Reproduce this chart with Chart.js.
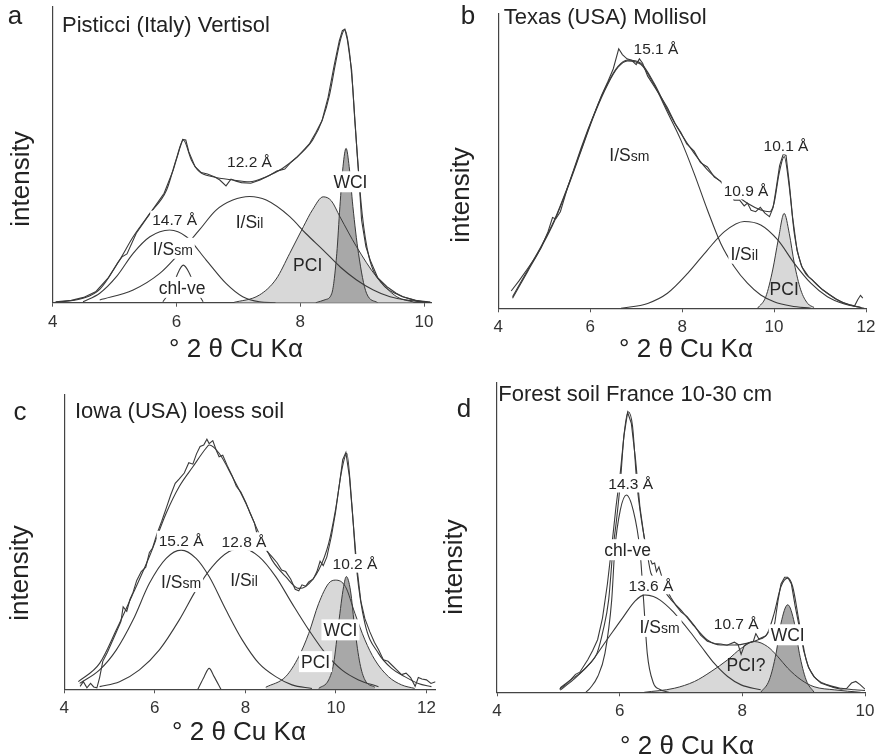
<!DOCTYPE html>
<html>
<head>
<meta charset="utf-8">
<script src="https://cdn.jsdelivr.net/npm/chart.js@4.4.0/dist/chart.umd.min.js"></script>
<style>
  body { margin: 0; background: #fff; }
  #wrap { position: relative; width: 882px; height: 755px; }
  #wrap canvas { position: absolute; }
</style>
</head>
<body>
<div id="wrap">
  <canvas id="pa" width="441" height="370" style="left:0;top:0"></canvas>
  <canvas id="pb" width="441" height="370" style="left:441px;top:0"></canvas>
  <canvas id="pc" width="441" height="385" style="left:0;top:370px"></canvas>
  <canvas id="pd" width="441" height="385" style="left:441px;top:370px"></canvas>
</div>
<script>
const FONT = '"Liberation Sans", Arial, Helvetica, sans-serif';

// ---- a: Pisticci (Italy) Vertisol ----
const aTicks = [4, 6, 8, 10];
const aMeasX = [4.05,4.3,4.5,4.7,4.9,5.05,5.12,5.2,5.35,5.5,5.65,5.8,5.95,6.05,6.1,6.15,6.2,6.3,6.4,6.5,6.62,6.7,6.8,6.88,6.95,7.05,7.2,7.35,7.5,7.62,7.75,7.85,7.95,8.05,8.15,8.25,8.35,8.45,8.55,8.63,8.68,8.72,8.76,8.83,8.88,8.94,8.99,9.06,9.13,9.25,9.40,9.55,9.66,9.85,10.1];
const aMeasY = [0.3,0.8,1.8,3.8,8.5,13.5,15.5,16.5,23.5,28,32.5,37,45,52,55.2,55,51,46,44,43.5,42.5,41.5,39.5,41.8,41.2,40.6,40.4,41.5,43,44.5,45.2,47.5,49.2,51.5,53.8,57.5,61.5,69.5,80.5,88.5,92,92.5,89,78.7,61.8,44.9,28,19,14.4,8.5,5.4,3.2,2.0,0.8,0.2];
const aSumX = [4.0,4.49,4.76,5.08,5.30,5.57,5.84,6.00,6.11,6.24,6.37,6.59,6.91,7.18,7.45,7.71,7.98,8.20,8.36,8.47,8.57,8.65,8.72,8.79,8.85,8.92,9.00,9.11,9.32,9.59,9.92,10.1];
const aSumY = [0,1.5,4.5,14.4,22.3,30.2,38.1,48.8,55.0,48.3,44.3,42.6,41.5,40.9,42.6,45.4,49.9,55.0,62.0,70.0,81.0,89.0,92.3,85.5,72.0,50.0,30.0,15.5,6.5,2.6,0.6,0.1];
const aSsmX = [4.49,4.76,5.03,5.30,5.57,5.89,6.16,6.48,6.80,7.07,7.34,7.6];
const aSsmY = [0.3,3.2,8.8,16.7,22.3,24.6,22.3,14.4,6.5,2.0,0.3,0];
const aSilX = [4.76,5.30,5.73,6.00,6.37,6.64,6.91,7.18,7.45,7.83,8.09,8.37,8.65,8.91,9.18,9.45,9.75,10.05];
const aSilY = [0.9,4.3,9.9,15.6,24.6,31.3,34.7,35.9,34.7,29.1,23.4,17.8,12.0,7.7,4.3,2.0,0.8,0.2];
const aChlX = [5.78,5.94,6.02,6.11,6.21,6.32,6.43];
const aChlY = [0.3,5.4,9.9,12.7,9.9,4.3,0.3];
const aPclX = [6.91,7.34,7.61,7.83,8.05,8.20,8.37,8.50,8.64,8.91,9.23,9.56,9.83];
const aPclY = [0,2.6,8.0,16.7,25.7,31.5,35.8,34.5,29.1,18.9,8.8,2.0,0.2];
const aWclX = [8.25,8.40,8.51,8.59,8.64,8.69,8.74,8.79,8.85,8.94,9.07,9.25];
const aWclY = [0,1.0,3.2,16.7,32.5,46,52.2,46,32.5,16.7,3.2,0];
const aNotes = [
  ['12.2 Å', 7.18, 47.7, 1], ['14.7 Å', 5.97, 28.0, 1], ['I/S_il', 7.18, 27.4, 1],
  ['I/S_sm', 5.94, 18.4, 1], ['chl-ve', 6.09, 5.2, 1], ['PCI', 8.12, 12.7, 0], ['WCI', 8.81, 40.9, 1]
];

// ---- b: Texas (USA) Mollisol ----
const bTicks = [4, 6, 8, 10, 12];
const bMeasX = [4.28,4.45,4.64,4.8,4.93,5.08,5.18,5.25,5.35,5.51,5.65,5.80,5.95,6.09,6.25,6.38,6.5,6.62,6.7,6.8,6.9,7.0,7.07,7.14,7.25,7.39,7.55,7.68,7.85,7.97,8.1,8.26,8.4,8.55,8.7,8.84,8.95,9.05,9.13,9.25,9.35,9.42,9.5,9.6,9.7,9.8,9.9,9.98,10.05,10.12,10.2,10.26,10.33,10.4,10.5,10.6,10.75,10.9,11.05,11.2,11.35,11.5,11.65,11.75,11.82,11.88,11.93];
const bMeasY = [6.0,9.5,13.8,17.5,21.0,26.5,31.5,31.0,33.5,42.0,48.5,55.5,62.0,67.5,74.0,78.5,83.0,90.0,88.0,86.5,86.0,84.5,86.5,85.0,80.5,77.0,73.0,69.5,64.0,61.0,57.0,54.5,50.5,49.0,45.5,44.0,41.5,41.0,37.5,37.5,35.5,36.5,34.0,33.5,35.0,33.0,31.8,35.0,42.0,49.5,53.5,53.0,43.5,32.0,20.0,14.5,11.0,8.8,6.5,4.8,3.2,2.0,1.2,0.8,3.0,4.5,3.5];
const bSumX = [4.31,4.64,4.93,5.22,5.51,5.80,6.09,6.38,6.60,6.81,7.10,7.39,7.68,7.97,8.26,8.55,8.84,9.13,9.42,9.71,9.90,10.0,10.11,10.22,10.33,10.44,10.58,10.87,11.16,11.45,11.74,11.96];
const bSumY = [4.0,13.3,21.4,30.6,42.2,54.9,67.6,78.0,83.8,86.1,85.0,78.0,68.8,60.7,53.8,48.0,43.9,39.9,36.4,34.1,33.5,36.5,46.8,52.6,42.2,26.0,15.6,9.2,5.2,2.3,0.8,0];
const bSsmX = [4.31,4.64,4.93,5.22,5.51,5.80,6.09,6.38,6.60,6.81,7.10,7.39,7.68,7.97,8.26,8.55,8.84,9.13,9.42,9.71,10.0,10.37,10.8];
const bSsmY = [3.5,12.8,21.0,30.2,41.8,54.5,67.2,77.6,83.5,85.8,84.6,77.5,68.0,58.4,46.8,34.1,22.5,14.5,8.7,4.6,2.3,0.8,0];
const bSilX = [6.67,7.25,7.68,8.12,8.55,8.92,9.35,9.71,10.08,10.44,10.80,11.16,11.53,11.89];
const bSilY = [0,1.7,5.2,12.1,20.2,26.6,30.1,28.9,23.7,15.6,8.7,4.0,1.5,0.3];
const bPclX = [9.64,9.82,9.97,10.09,10.22,10.33,10.44,10.58,10.73,10.87];
const bPclY = [0,4.0,13.3,23.7,32.9,26.0,15.6,6.4,1.7,0.3];
const bNotes = [
  ['15.1 Å', 7.43, 90.2, 1], ['I/S_sm', 6.85, 53.2, 1], ['10.9 Å', 9.39, 41.0, 1],
  ['10.1 Å', 10.26, 56.6, 1], ['I/S_il', 9.35, 19.1, 1], ['PCI', 10.22, 6.9, 0]
];

// ---- c: Iowa (USA) loess soil ----
const cTicks = [4, 6, 8, 10, 12];
const cMeasX = [4.35,4.42,4.5,4.58,4.65,4.72,4.78,4.85,4.95,5.05,5.15,5.25,5.3,5.38,5.45,5.52,5.6,5.7,5.8,5.88,5.95,6.05,6.15,6.25,6.35,6.45,6.54,6.65,6.75,6.84,6.92,7.0,7.08,7.15,7.2,7.28,7.35,7.42,7.5,7.6,7.71,7.8,7.9,8.01,8.1,8.2,8.3,8.4,8.5,8.59,8.7,8.8,8.89,9.0,9.1,9.18,9.25,9.33,9.4,9.5,9.58,9.65,9.72,9.8,9.9,9.99,10.08,10.15,10.22,10.3,10.38,10.46,10.55,10.64,10.75,10.85,10.94,11.05,11.15,11.25,11.35,11.45,11.55,11.65,11.75,11.82,11.9,12.0,12.1,12.2];
const cMeasY = [1.0,2.6,0.5,2.0,0.8,0.5,4.0,9.5,12.5,16.0,19.5,23.0,28.0,26.5,30.5,33.0,37.0,40.0,41.5,46.5,48.0,53.0,57.0,61.5,66.0,70.0,71.5,73.5,77.0,76.5,80.0,82.5,83.0,85.0,83.5,84.5,81.5,79.0,79.5,76.0,72.5,69.0,67.0,63.5,60.0,56.5,50.0,48.5,46.5,45.0,43.0,40.5,40.0,37.5,34.0,33.5,35.5,35.0,36.5,37.5,40.0,43.5,42.0,45.0,52.0,60.0,70.0,78.0,80.5,72.0,57.0,42.0,30.0,24.0,19.5,16.0,13.5,10.0,9.5,8.0,6.5,5.0,5.5,4.0,1.0,4.0,3.5,3.2,2.0,2.6];
const cSumX = [4.31,4.78,5.15,5.52,5.88,6.25,6.54,6.84,7.13,7.20,7.42,7.71,8.01,8.30,8.59,8.89,9.18,9.33,9.62,9.84,9.99,10.13,10.24,10.35,10.46,10.64,10.94,11.23,11.52,11.82,12.11];
const cSumY = [2.6,8.8,20.2,32.6,45.1,59.8,68.9,75.6,81.9,83.0,80.2,72.3,63.2,53.0,43.9,38.3,34.3,34.9,40.5,49.6,60.9,74.5,80.2,63.2,40.5,22.4,12.2,7.1,4.3,2.0,0.9];
const cSsmX = [4.34,4.78,5.15,5.52,5.88,6.25,6.58,6.91,7.20,7.57,7.93,8.30,8.67,9.03,9.47];
const cSsmY = [2.0,6.6,13.4,23.6,36.0,44.5,47.3,44.5,38.3,27.0,16.8,8.8,4.3,1.5,0.3];
const cSilX = [4.78,5.22,5.66,6.10,6.54,6.91,7.27,7.64,7.93,8.30,8.67,9.03,9.40,9.77,10.13,10.50,10.94];
const cSilY = [0.9,2.6,6.6,13.4,23.6,33.7,41.7,46.8,47.9,45.1,38.3,29.2,20.2,12.2,6.6,3.2,0.9];
const cBumpX = [6.95,7.09,7.20,7.31,7.46];
const cBumpY = [0,4.3,7.1,4.3,0];
const cPclX = [8.45,8.89,9.18,9.40,9.62,9.84,9.99,10.21,10.42,10.64,10.86,11.16,11.45,11.74];
const cPclY = [0.7,4.3,11.1,19.0,29.2,36.0,37.1,34.9,25.8,16.8,10.0,4.3,1.5,0.3];
const cWclX = [9.62,9.84,9.95,10.06,10.17,10.23,10.32,10.42,10.53,10.64,10.86];
const cWclY = [0.3,3.2,8.8,22.4,34.9,38.3,33.7,20.2,8.8,3.2,0.7];
const cNotes = [
  ['15.2 Å', 6.58, 50.7, 1], ['12.8 Å', 7.97, 50.2, 1], ['10.2 Å', 10.42, 42.8, 1],
  ['I/S_sm', 6.58, 36.6, 1], ['I/S_il', 7.97, 37.1, 1], ['WCI', 10.10, 20.2, 1], ['PCI', 9.55, 9.4, 1]
];

// ---- d: Forest soil France 10-30 cm ----
const dTicks = [4, 6, 8, 10];
const dMeasX = [5.02,5.12,5.2,5.28,5.35,5.48,5.56,5.64,5.72,5.8,5.87,5.94,6.01,6.07,6.13,6.19,6.26,6.33,6.4,6.47,6.53,6.57,6.6,6.64,6.7,6.77,6.84,6.92,7.0,7.1,7.22,7.32,7.43,7.55,7.65,7.75,7.87,7.93,7.98,8.03,8.1,8.18,8.22,8.27,8.33,8.38,8.43,8.48,8.53,8.58,8.63,8.69,8.74,8.8,8.86,8.93,9.0,9.08,9.17,9.28,9.39,9.5,9.61,9.7,9.78,9.85,9.92,10.0];
const dMeasY = [1.0,2.5,4.0,5.8,6.5,10.5,13.5,17.0,24.0,35.0,47.0,60.0,71.0,83.0,90.5,87.0,75.0,60.0,50.0,44.5,41.5,41.8,39.0,40.5,36.5,33.0,30.5,28.0,26.0,24.5,21.5,18.5,16.5,15.8,15.6,15.2,16.2,15.5,12.3,15.0,16.0,16.5,19.0,17.2,17.8,18.2,19.5,19.0,22.5,29.5,35.0,37.2,37.2,35.0,28.0,21.0,13.5,8.0,5.0,3.0,2.2,1.5,1.0,1.2,3.0,3.5,2.5,1.0];
const dSumX = [5.03,5.20,5.35,5.50,5.63,5.73,5.82,5.89,5.95,6.01,6.07,6.14,6.21,6.28,6.36,6.44,6.51,6.60,6.70,6.84,7.00,7.22,7.43,7.65,7.87,8.09,8.25,8.41,8.52,8.63,8.74,8.82,8.93,9.04,9.17,9.39,9.61,9.83,10.0];
const dSumY = [1.4,4.0,6.1,9.0,12.6,20.0,29.8,46.0,56.0,67.6,83.0,90.7,86.0,67.6,55.0,46.0,38.5,36.5,33.5,29.9,26.6,21.3,16.9,15.3,15.3,15.9,16.9,19.1,25.6,34.2,36.9,34.2,22.3,10.5,5.1,2.4,1.3,0.8,0.6];
const dChlX = [5.45,5.52,5.64,5.76,5.87,5.92,6.01,6.11,6.22,6.33,6.39,6.45,6.55,6.65,6.80];
const dChlY = [0,1.4,5.0,12.6,29.8,46.0,58.9,63.8,58.9,46.0,29.8,12.6,3.0,1.0,0];
const dSsmX = [5.03,5.24,5.52,5.79,6.06,6.25,6.41,6.55,6.66,6.85,6.99,7.15,7.33,7.54,7.76,7.98,8.30];
const dSsmY = [0.7,4.0,9.4,16.9,24.4,29.5,31.5,31.0,29.8,26.5,23.4,19.5,14.8,9.4,5.1,2.4,0.8];
const dPclX = [6.40,6.89,7.22,7.49,7.76,7.98,8.20,8.41,8.58,8.74,8.96,9.17,9.50,9.93];
const dPclY = [0,1.3,3.5,6.7,10.5,14.2,16.4,14.8,11.5,7.8,4.0,1.8,0.8,0];
const dWclX = [8.30,8.44,8.55,8.63,8.74,8.85,8.93,9.04,9.17];
const dWclY = [0,4.0,12.6,22.3,28.3,22.3,12.6,4.0,0];
const dNotes = [
  ['14.3 Å', 6.18, 67.6, 1], ['chl-ve', 6.13, 46.1, 1], ['13.6 Å', 6.51, 34.7, 1],
  ['I/S_sm', 6.65, 21.3, 1], ['10.7 Å', 7.90, 22.3, 1], ['WCI', 8.74, 18.6, 1], ['PCI?', 8.06, 8.8, 0]
];

const INK = '#3a3a3a';
const LIGHT = '#d8d8d8';
const DARK = '#a8a8a8';

const pts = (xs, ys) => xs.map((x, i) => ({ x, y: ys[i] }));

// raw diffractogram: straight segments so the noise stays visible
const raw = (xs, ys) => ({ data: pts(xs, ys), borderColor: INK, borderWidth: 1.1, pointRadius: 0, fill: false, tension: 0, order: 1 });
// fitted sum and decomposed peaks
const fit = (xs, ys) => ({ data: pts(xs, ys), borderColor: INK, borderWidth: 1.1, pointRadius: 0, fill: false, tension: 0.3, cubicInterpolationMode: 'monotone', order: 1 });
const shaded = (xs, ys, color, order) => ({ data: pts(xs, ys), borderColor: INK, borderWidth: 1, backgroundColor: color, fill: 'origin', pointRadius: 0, tension: 0.3, cubicInterpolationMode: 'monotone', order });

function drawNote(ctx, txt, px, py, boxed) {
  const size = txt.includes('Å') ? 15.5 : 17.5;
  const [main, sub = ''] = txt.split('_');
  const big = `${size}px ${FONT}`, small = `${(size * 0.8).toFixed(1)}px ${FONT}`;
  ctx.save();
  ctx.font = big;
  const w1 = ctx.measureText(main).width;
  ctx.font = small;
  const w2 = sub ? ctx.measureText(sub).width : 0;
  const x0 = px - (w1 + w2) / 2;
  if (boxed) {
    ctx.fillStyle = '#fff';
    ctx.fillRect(x0 - 2, py - size * 0.6, w1 + w2 + 4, size * 1.2);
  }
  ctx.fillStyle = '#262626';
  ctx.textAlign = 'left';
  ctx.textBaseline = 'alphabetic';
  const base = py + size * 0.36;
  ctx.font = big;
  ctx.fillText(main, x0, base);
  if (sub) { ctx.font = small; ctx.fillText(sub, x0 + w1, base); }
  ctx.restore();
}

// panel letter, sample name, axis titles and the peak/phase labels
const panelText = {
  id: 'panelText',
  afterDraw(chart, args, o) {
    const ctx = chart.ctx, sx = chart.scales.x, sy = chart.scales.y;
    ctx.save();
    ctx.fillStyle = '#222';
    ctx.textBaseline = 'middle';
    ctx.textAlign = 'center';
    ctx.font = `26px ${FONT}`;
    ctx.fillText(o.letter, o.letterAt[0], o.letterAt[1]);
    ctx.fillText('° 2 θ Cu Kα', o.xTitleAt[0], o.xTitleAt[1]);
    ctx.textAlign = 'left';
    ctx.font = `22px ${FONT}`;
    ctx.fillText(o.title, o.titleAt[0], o.titleAt[1]);
    ctx.translate(o.yTitleAt[0], o.yTitleAt[1]);
    ctx.rotate(-Math.PI / 2);
    ctx.textAlign = 'center';
    ctx.font = `26px ${FONT}`;
    ctx.fillText('intensity', 0, 0);
    ctx.restore();
    for (const [txt, x, y, boxed] of o.notes) {
      drawNote(ctx, txt, sx.getPixelForValue(x), sy.getPixelForValue(y), boxed);
    }
  }
};

function panel(id, p) {
  const canvas = document.getElementById(id);
  new Chart(canvas, {
    type: 'line',
    data: { datasets: p.datasets },
    options: {
      responsive: false,
      animation: false,
      devicePixelRatio: 1,
      layout: { padding: { top: p.top, right: canvas.width - p.right, left: 0, bottom: 0 } },
      scales: {
        x: {
          type: 'linear', min: p.xMin, max: p.xMax,
          afterBuildTicks: s => { s.ticks = p.ticks.map(v => ({ value: v })); },
          afterFit: s => { s.height = canvas.height - p.bottom; },
          ticks: { font: { size: 17, family: FONT }, color: '#333', padding: 5, maxRotation: 0, autoSkip: false },
          grid: { drawOnChartArea: false, drawTicks: true, tickLength: 4, color: '#555' },
          border: { color: '#444', width: 1.2 }
        },
        y: {
          min: 0, max: p.yMax,
          afterFit: s => { s.width = p.left; },
          ticks: { display: false },
          grid: { drawOnChartArea: false, drawTicks: false, color: '#444' },
          border: { color: '#444', width: 1.2 }
        }
      },
      plugins: {
        legend: { display: false },
        tooltip: { enabled: false },
        filler: { drawTime: 'beforeDatasetsDraw' },
        panelText: p.text
      }
    },
    plugins: [panelText]
  });
}

panel('pa', {
  left: 52.7, top: 7, right: 431.5, bottom: 302.7, xMin: 4, xMax: 10.12, yMax: 100, ticks: aTicks,
  datasets: [
    raw(aMeasX, aMeasY), fit(aSumX, aSumY), fit(aSsmX, aSsmY), fit(aSilX, aSilY), fit(aChlX, aChlY),
    shaded(aWclX, aWclY, DARK, 2), shaded(aPclX, aPclY, LIGHT, 3)
  ],
  text: { letter: 'a', letterAt: [15, 17], title: 'Pisticci (Italy) Vertisol', titleAt: [62, 26],
          yTitleAt: [21.5, 179], xTitleAt: [236, 350], notes: aNotes }
});

panel('pb', {
  left: 57.3, top: 13.3, right: 425, bottom: 308.3, xMin: 4, xMax: 12, yMax: 102.3, ticks: bTicks,
  datasets: [
    raw(bMeasX, bMeasY), fit(bSumX, bSumY), fit(bSsmX, bSsmY), fit(bSilX, bSilY),
    shaded(bPclX, bPclY, LIGHT, 3)
  ],
  text: { letter: 'b', letterAt: [27, 17], title: 'Texas (USA) Mollisol', titleAt: [62.7, 18],
          yTitleAt: [21, 195], xTitleAt: [245, 350], notes: bNotes }
});

panel('pc', {
  left: 64.3, top: 25, right: 437.4, bottom: 319.3, xMin: 4, xMax: 12.2, yMax: 100, ticks: cTicks,
  datasets: [
    raw(cMeasX, cMeasY), fit(cSumX, cSumY), fit(cSsmX, cSsmY), fit(cSilX, cSilY), fit(cBumpX, cBumpY),
    shaded(cWclX, cWclY, DARK, 2), shaded(cPclX, cPclY, LIGHT, 3)
  ],
  text: { letter: 'c', letterAt: [20, 43], title: 'Iowa (USA) loess soil', titleAt: [75, 41.7],
          yTitleAt: [21, 203], xTitleAt: [239, 363], notes: cNotes }
});

panel('pd', {
  left: 56, top: 13, right: 424, bottom: 322.3, xMin: 4, xMax: 10, yMax: 100, ticks: dTicks,
  datasets: [
    raw(dMeasX, dMeasY), fit(dSumX, dSumY), fit(dChlX, dChlY), fit(dSsmX, dSsmY),
    shaded(dWclX, dWclY, DARK, 2), shaded(dPclX, dPclY, LIGHT, 3)
  ],
  text: { letter: 'd', letterAt: [23, 40], title: 'Forest soil France 10-30 cm', titleAt: [57.3, 25],
          yTitleAt: [14, 197], xTitleAt: [246, 377], notes: dNotes }
});
</script>
</body>
</html>
